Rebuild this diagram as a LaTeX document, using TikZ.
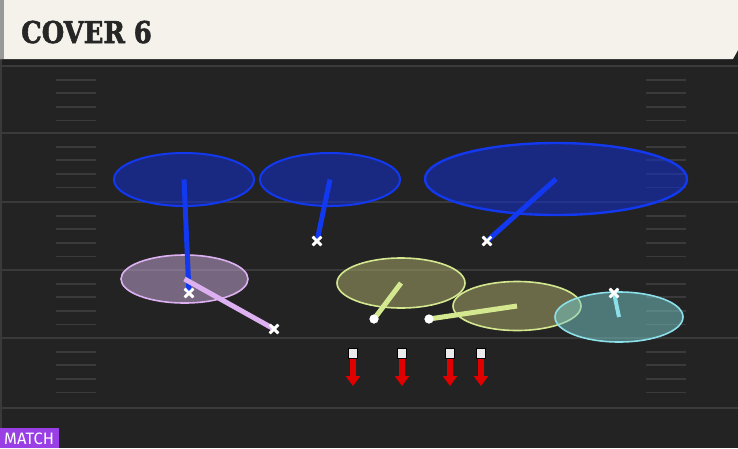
\documentclass[tikz,border=0pt]{standalone}
\usepackage{fontspec}
\usepackage{graphicx}
\usepackage{tikz}
\usetikzlibrary{shapes.geometric,shapes.misc,arrows.meta}
\newfontfamily\titlefont[BoldFeatures={FakeBold=2}]{DejaVu Serif}
\newfontfamily\badgefont{Fira Sans}
\definecolor{field}{HTML}{232323}
\definecolor{yardline}{HTML}{3A3A3A}
\definecolor{cream}{HTML}{F4F2EB}
\definecolor{deepblue}{HTML}{1030E0}
\definecolor{deepedge}{HTML}{1238F0}
\definecolor{curlfill}{HTML}{C9A9DD}
\definecolor{curlline}{HTML}{DDB0F2}
\definecolor{hookfill}{HTML}{B1B16D}
\definecolor{hookline}{HTML}{D4E890}
\definecolor{flatfill}{HTML}{79CDCD}
\definecolor{flatline}{HTML}{8CE0EA}
\definecolor{rushred}{HTML}{E00000}
\definecolor{matchpurple}{HTML}{9A3FE6}

\begin{document}
\begin{tikzpicture}[x=1pt,y=-1pt,
    zone/.style={ellipse,inner sep=0pt,line width=1.6pt,fill opacity=0.5},
    drop/.style={line width=5pt},
    xmark/.style={cross out,draw=white,line width=2.6pt,minimum size=6pt,inner sep=0pt},
    dot/.style={circle,fill=white,minimum size=9pt,inner sep=0pt},
    rusher/.style={rectangle,fill=white!92!black,draw=black,line width=0.6pt,minimum size=9.5pt,inner sep=0pt},
    rush/.style={rushred,line width=5.5pt,-{Triangle[width=14pt,length=10pt]}}]
      \useasboundingbox (0,0) rectangle (738,448);
      % field
      \fill[field] (0,0) rectangle (738,448);
      \fill[black!88] (0,59) rectangle (738,66);
      \fill[yardline] (0,59) rectangle (2,448);
      \foreach \y in {66,133,202,270,338,408}
        \draw[yardline,line width=2pt] (0,\y) -- (738,\y);
      \foreach \y in {66,133,202,270,338}
        \foreach \k in {1,2,3,4} {
          \draw[yardline,line width=1.8pt] (56,\y+13.6*\k) -- (96,\y+13.6*\k);
          \draw[yardline,line width=1.8pt] (646,\y+13.6*\k) -- (686,\y+13.6*\k);
        }
      % header
      \fill[cream] (0,0) -- (738,0) -- (738,50) -- (733,59) -- (0,59) -- cycle;
      \fill[black!40] (0,0) rectangle (4,59);
      \node[anchor=base west,inner sep=0pt,text=black!85,font=\titlefont\bfseries\fontsize{30}{30}\selectfont] (title) at (21,43) {\scalebox{0.86}[1]{COVER 6}};
      % zones
      \node[zone,draw=deepedge,fill=deepblue,line width=2pt,minimum width=140pt,minimum height=53pt] (deepL) at (184,179.5) {};
      \node[zone,draw=deepedge,fill=deepblue,line width=2pt,minimum width=140pt,minimum height=53pt] (deepM) at (330,179.5) {};
      \node[zone,draw=deepedge,fill=deepblue,line width=2.4pt,minimum width=262pt,minimum height=72pt] (deepHalf) at (556,179) {};
      \node[zone,draw=curlline,fill=curlfill,minimum width=127pt,minimum height=48pt] (curlFlat) at (184.5,279) {};
      \node[zone,draw=hookline,fill=hookfill,minimum width=128pt,minimum height=50pt] (hookL) at (401,283) {};
      \node[zone,draw=hookline,fill=hookfill,minimum width=128pt,minimum height=49pt] (hookR) at (517,306) {};
      \node[zone,draw=flatline,fill=flatfill,minimum width=128pt,minimum height=50pt] (flatR) at (619,317) {};
      % defenders
      \node[xmark] (cbL) at (189,293) {};
      \node[xmark] (ssL) at (317,241) {};
      \node[xmark] (fsR) at (487,241) {};
      \node[xmark] (nickel) at (274,329) {};
      \node[xmark] (cbR) at (614,293) {};
      \node[dot] (lbM) at (374,319) {};
      \node[dot] (lbW) at (429,319) {};
      % drops
      \draw[drop,deepedge] (cbL.center) -- (deepL.center);
      \draw[drop,deepedge] (ssL.center) -- (deepM.center);
      \draw[drop,deepedge] (fsR.center) -- (deepHalf.center);
      \draw[drop,curlline] (nickel.center) -- (curlFlat.center);
      \draw[drop,hookline] (lbM.center) -- (hookL.center);
      \draw[drop,hookline] (lbW.center) -- (hookR.center);
      \draw[drop,flatline,line width=4pt] (cbR.center) -- (flatR.center);
      \foreach \p in {cbL,ssL,fsR,nickel,cbR}
        \node[xmark] at (\p) {};
      \foreach \p in {lbM,lbW}
        \node[dot] at (\p) {};
      % rushers
      \foreach \n/\x in {r1/353,r2/402,r3/450,r4/481} {
        \node[rusher] (\n) at (\x,353.5) {};
        \coordinate (\n end) at (\x,386);
        \draw[rush] (\n.south) -- (\n end);
      }
      % badge
      \fill[matchpurple] (0,428) rectangle (59,448);
      \node[anchor=base west,inner sep=0pt,text=white,font=\badgefont\fontsize{16.5}{16.5}\selectfont] (match) at (4,444.5) {MATCH};
    \end{tikzpicture}
\end{document}
